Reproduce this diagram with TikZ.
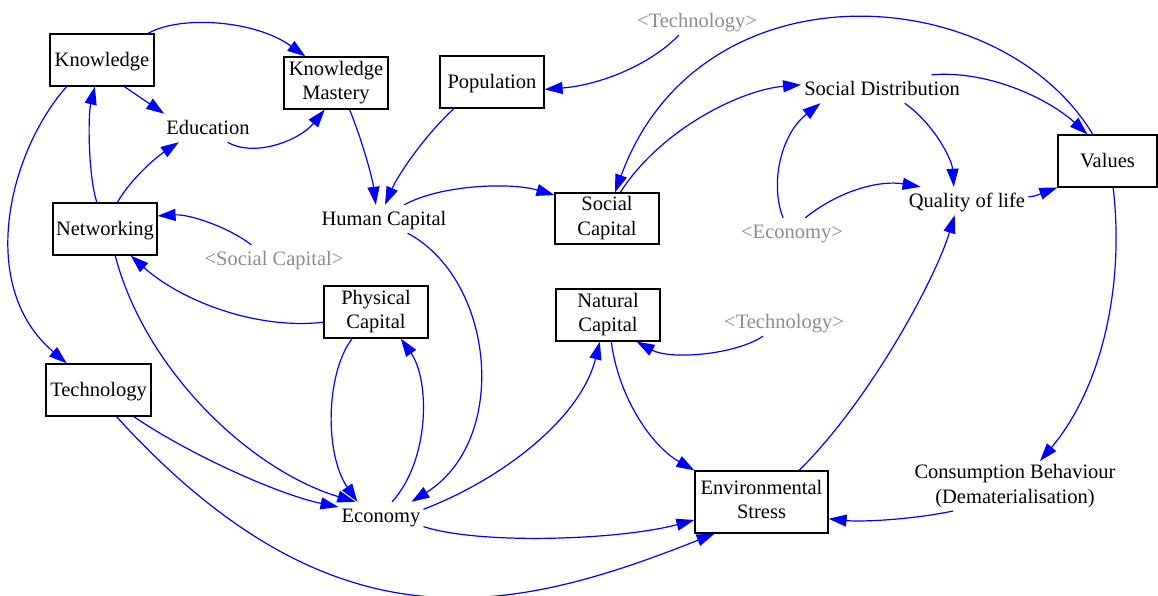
\documentclass[tikz,border=0pt]{standalone}
\usepackage{fontspec}
\setmainfont{Liberation Serif}
\usetikzlibrary{arrows.meta}
\definecolor{linkblue}{RGB}{0,0,255}
\definecolor{shadowgray}{RGB}{140,140,140}
\begin{document}
\begin{tikzpicture}[x=1pt,y=-1pt,
  every node/.style={font=\fontsize{20.5}{23.5}\selectfont, align=center},
  stock/.style={draw=black, line width=1.2pt, minimum width=104pt, minimum height=52pt, inner sep=0pt,
    execute at begin node={\rule{0pt}{17.5pt}}, execute at end node={\rule[-5pt]{0pt}{0pt}}},
  twoline/.style={font=\fontsize{20.5}{24.5}\selectfont,
    execute at begin node={\rule{0pt}{21.5pt}}},
  aux/.style={inner sep=3pt, text height=17.5pt, text depth=4.5pt},
  ghost/.style={aux, text=shadowgray},
  link/.style={draw=linkblue, line width=1.2pt, -{Triangle[length=18pt,width=12pt]}}
]
\useasboundingbox (0,0) rectangle (1158,596);

% stocks
\node[stock] (kn) at (102,60) {Knowledge};
\node[stock, twoline] (km) at (336,83) {Knowledge\\Mastery};
\node[stock] (nw) at (105,229) {Networking};
\node[stock] (pop) at (492,82) {Population};
\node[stock, twoline, minimum height=51pt] (sc) at (607,218.5) {Social\\Capital};
\node[stock, minimum width=99pt] (val) at (1107.5,161) {Values};
\node[stock, twoline] (pc) at (376,312) {Physical\\Capital};
\node[stock, twoline] (nc) at (608,315) {Natural\\Capital};
\node[stock, minimum width=105pt] (tech) at (98.5,390) {Technology};
\node[stock, twoline, minimum width=133pt, minimum height=62pt] (es) at (761.5,502) {Environmental\\Stress};

% auxiliaries
\node[aux] (ed) at (208,128) {Education};
\node[aux] (hc) at (384,219) {Human Capital};
\node[aux] (sd) at (882,89) {Social Distribution};
\node[aux] (ql) at (967,201) {Quality of life};
\node[aux] (ec) at (381,516) {Economy};
\node[inner sep=3pt, font=\fontsize{20.5}{25}\selectfont] (cb) at (1015,486) {Consumption Behaviour\\(Dematerialisation)};

% shadow variables
\node[ghost] (scg) at (274,259) {<Social Capital>};
\node[ghost] (tg1) at (697,21) {<Technology>};
\node[ghost] (eg) at (792,232) {<Economy>};
\node[ghost] (tg2) at (784,322) {<Technology>};

% causal links
\draw[link] (kn.30) .. controls (180,15) and (255,20) .. (km.139);
\draw[link] (kn.-50) -- (ed.162);
\draw[link] (ed.-36) .. controls (255,158) and (300,140) .. (km.-113);
\draw[link] (nw.107) .. controls (88,175) and (88,115) .. (kn.-105);
\draw[link] (nw.65) .. controls (130,180) and (155,158) .. (ed.-154);
\draw[link] (kn.-143) .. controls (10,150) and (-25,285) .. (tech.140);
\draw[link] (scg.148) .. controls (230,228) and (190,214) .. (nw.14);
\draw[link] (pc.-169) .. controls (255,330) and (180,300) .. (nw.-46);
\draw[link] (nw.-69) .. controls (145,370) and (250,470) .. (ec.151);
\draw[link] (km.-63) .. controls (360,135) and (372,175) .. (hc.120);
\draw[link] (pop.-145) .. controls (425,135) and (398,175) .. (hc.86);
\draw[link] (hc.35) .. controls (440,185) and (510,182) .. (sc.156);
\draw[link] (tg1.-142) .. controls (650,65) and (600,85) .. (pop.-8);
\draw[link] (val.119) .. controls (1000,-20) and (700,-40) .. (sc.73);
\draw[link] (sc.63) .. controls (660,130) and (740,90) .. (sd.177);
\draw[link] (sd.16) .. controls (990,70) and (1050,100) .. (val.127);
\draw[link] (sd.-32) .. controls (935,125) and (952,160) .. (ql.133);
\draw[link] (eg.122) .. controls (770,185) and (780,135) .. (sd.-167);
\draw[link] (eg.47) .. controls (840,190) and (880,180) .. (ql.163);
\draw[link] (ql.4) .. controls (1035,197) and (1045,192) .. (val.south west);
\draw[link] (es.40) .. controls (870,400) and (935,280) .. (ql.-131);
\draw[link] (val.-78) .. controls (1125,290) and (1100,390) .. (cb.45);
\draw[link] (cb.-158) .. controls (910,520) and (860,522) .. (es.-14);
\draw[link] (pc.-132) .. controls (325,375) and (325,455) .. (ec.149);
\draw[link] (ec.52) .. controls (430,460) and (430,380) .. (pc.-47);
\draw[link] (hc.-31) .. controls (495,280) and (510,440) .. (ec.25);
\draw[link] (ec.9) .. controls (500,480) and (580,420) .. (nc.-107);
\draw[link] (nc.-83) .. controls (618,395) and (650,445) .. (es.north west);
\draw[link] (tg2.-146) .. controls (735,355) and (670,360) .. (nc.-43);
\draw[link] (ec.-14) .. controls (480,545) and (620,540) .. (es.-165);
\draw[link] (tech.-37) .. controls (190,455) and (280,495) .. (ec.168);
\draw[link] (tech.-56) .. controls (331,652) and (505,617) .. (es.-146);
\end{tikzpicture}
\end{document}
